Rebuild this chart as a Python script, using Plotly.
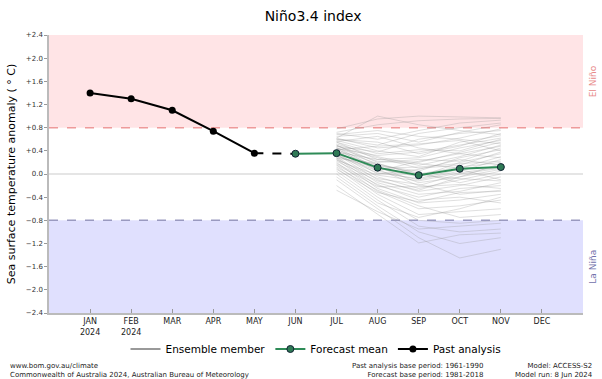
import plotly.graph_objects as go

months = ["JAN<br>2024", "FEB<br>2024", "MAR", "APR", "MAY", "JUN", "JUL", "AUG", "SEP", "OCT", "NOV", "DEC"]
month_pos = list(range(1, 13))

past_x = [1, 2, 3, 4, 5]
past_y = [1.40, 1.30, 1.10, 0.74, 0.36]

bridge_x = [5, 6]
bridge_y = [0.36, 0.35]

fc_x = [6, 7, 8, 9, 10, 11]
fc_y = [0.35, 0.36, 0.11, -0.02, 0.09, 0.12]

ens_x = [7, 8, 9, 10, 11]
ensemble = [
    [0.78, 0.95, 1.00, 0.98, 0.97],
    [0.72, 0.85, 0.92, 0.95, 0.96],
    [0.70, 0.60, 0.75, 0.88, 0.93],
    [0.65, 0.70, 0.55, 0.72, 0.85],
    [0.62, 0.45, 0.50, 0.62, 0.78],
    [0.60, 0.55, 0.35, 0.48, 0.70],
    [0.58, 0.40, 0.30, 0.55, 0.66],
    [0.55, 0.35, 0.42, 0.40, 0.60],
    [0.55, 0.25, 0.20, 0.38, 0.55],
    [0.52, 0.30, 0.15, 0.30, 0.50],
    [0.50, 0.20, 0.25, 0.22, 0.45],
    [0.50, 0.15, 0.05, 0.28, 0.42],
    [0.48, 0.28, 0.10, 0.15, 0.38],
    [0.46, 0.10, -0.05, 0.20, 0.35],
    [0.45, 0.22, 0.18, 0.10, 0.30],
    [0.44, 0.05, -0.10, 0.05, 0.25],
    [0.42, 0.18, 0.00, 0.12, 0.20],
    [0.40, 0.12, -0.15, -0.05, 0.18],
    [0.40, 0.00, 0.08, 0.25, 0.15],
    [0.38, 0.08, -0.20, 0.00, 0.10],
    [0.36, -0.05, -0.25, -0.10, 0.05],
    [0.35, 0.15, 0.02, -0.15, 0.00],
    [0.34, -0.10, -0.30, -0.20, -0.05],
    [0.32, 0.02, -0.08, 0.08, -0.10],
    [0.30, -0.15, -0.35, -0.30, -0.15],
    [0.30, 0.10, 0.12, 0.18, 0.22],
    [0.28, -0.20, -0.40, -0.25, -0.20],
    [0.26, -0.08, -0.18, -0.35, -0.28],
    [0.25, -0.25, -0.50, -0.45, -0.35],
    [0.22, -0.12, -0.28, -0.05, 0.08],
    [0.20, -0.30, -0.60, -0.55, -0.45],
    [0.18, -0.18, -0.45, -0.40, -0.50],
    [0.15, -0.35, -0.70, -0.65, -0.60],
    [0.12, -0.28, -0.55, -0.75, -0.70],
    [0.10, -0.40, -0.80, -0.85, -0.80],
    [0.05, -0.45, -0.90, -1.00, -0.95],
    [0.00, -0.50, -0.75, -0.60, -0.40],
    [-0.05, -0.55, -1.00, -1.20, -1.10],
    [-0.10, -0.60, -1.10, -1.45, -1.30],
    [-0.20, -0.70, -1.19, -1.05, -1.02],
    [-0.28, -0.65, -0.95, -0.90, -0.85],
    [0.68, 0.75, 0.65, 0.60, 0.52],
    [0.60, 0.50, 0.70, 0.80, 0.88],
    [0.56, 0.65, 0.45, 0.35, 0.28],
    [0.48, 0.38, 0.60, 0.70, 0.75],
    [0.44, 0.32, 0.38, 0.50, 0.62],
    [0.38, 0.25, 0.28, 0.45, 0.58],
    [0.33, 0.05, 0.22, 0.35, 0.48],
    [0.27, 0.18, -0.02, -0.08, -0.12],
    [0.24, -0.02, -0.12, 0.02, 0.12],
    [0.16, -0.22, -0.22, -0.18, -0.25],
    [0.08, -0.32, -0.48, -0.32, -0.30],
    [0.62, 1.00, 0.85, 0.75, 0.68],
    [0.42, 0.48, 0.52, 0.58, 0.40],
]

ytick_vals = [-2.4, -2.0, -1.6, -1.2, -0.8, -0.4, 0.0, 0.4, 0.8, 1.2, 1.6, 2.0, 2.4]
ytick_text = ["\u22122.4", "\u22122.0", "\u22121.6", "\u22121.2", "\u22120.8", "\u22120.4", "0.0",
              "+0.4", "+0.8", "+1.2", "+1.6", "+2.0", "+2.4"]

FONT = "DejaVu Sans"
fig = go.Figure()

ex, ey = [], []
for m in ensemble:
    ex += ens_x + [None]
    ey += m + [None]
fig.add_trace(go.Scatter(x=ex, y=ey, mode="lines", showlegend=False,
                         line=dict(color="rgba(150,150,150,0.3)", width=1)))
# legend entry for ensemble members (legend-only, solid grey)
fig.add_trace(go.Scatter(x=[None], y=[None], mode="lines", name="Ensemble member",
                         line=dict(color="#999999", width=2)))

fig.add_trace(go.Scatter(x=bridge_x, y=bridge_y, mode="lines", showlegend=False,
                         line=dict(color="black", width=2, dash="dash")))

fig.add_trace(go.Scatter(x=fc_x, y=fc_y, mode="lines+markers", name="Forecast mean",
                         line=dict(color="#2e8b57", width=2),
                         marker=dict(size=7, color="#2f7a55", line=dict(color="#123", width=1))))

fig.add_trace(go.Scatter(x=past_x, y=past_y, mode="lines+markers", name="Past analysis",
                         line=dict(color="black", width=2),
                         marker=dict(size=7, color="black")))

shapes = [
    dict(type="rect", xref="paper", yref="y", x0=0, x1=1, y0=0.8, y1=2.4,
         fillcolor="#ffe4e6", line=dict(width=0), layer="below"),
    dict(type="rect", xref="paper", yref="y", x0=0, x1=1, y0=-2.4, y1=-0.8,
         fillcolor="#e0e0fe", line=dict(width=0), layer="below"),
    dict(type="line", xref="paper", yref="y", x0=0, x1=1, y0=0, y1=0,
         line=dict(color="#dddddd", width=1.5), layer="below"),
    dict(type="line", xref="paper", yref="y", x0=0, x1=1, y0=0.8, y1=0.8,
         line=dict(color="#ee9a9a", width=1.5, dash="dash"), layer="below"),
    dict(type="line", xref="paper", yref="y", x0=0, x1=1, y0=-0.8, y1=-0.8,
         line=dict(color="#9a9ac0", width=1.5, dash="dash"), layer="below"),
]

annotations = [
    dict(text="El Niño", xref="paper", yref="y", x=1.0, y=1.6, xanchor="left", xshift=3,
         showarrow=False, textangle=-90, font=dict(family=FONT, size=9, color="#e88a8a")),
    dict(text="La Niña", xref="paper", yref="y", x=1.0, y=-1.6, xanchor="left", xshift=3,
         showarrow=False, textangle=-90, font=dict(family=FONT, size=9, color="#7070aa")),
    dict(text="www.bom.gov.au/climate<br>Commonwealth of Australia 2024, Australian Bureau of Meteorology",
         xref="paper", yref="paper", x=0, y=0, xanchor="left", yanchor="bottom",
         xshift=-41, yshift=-68, align="left", showarrow=False,
         font=dict(family=FONT, size=7, color="#222")),
    dict(text="Past analysis base period: 1961-1990<br>Forecast base period: 1981-2018",
         xref="paper", yref="paper", x=0, y=0, xanchor="right", yanchor="bottom",
         xshift=436, yshift=-68, align="right", showarrow=False,
         font=dict(family=FONT, size=7, color="#222")),
    dict(text="Model: ACCESS-S2<br>Model run: 8 Jun 2024",
         xref="paper", yref="paper", x=1, y=0, xanchor="right", yanchor="bottom",
         xshift=12, yshift=-68, align="right", showarrow=False,
         font=dict(family=FONT, size=7, color="#222")),
]

fig.update_layout(
    width=602, height=379,
    margin=dict(l=49, r=19, t=35, b=66, autoexpand=False),
    paper_bgcolor="white", plot_bgcolor="white",
    title=dict(text="Niño3.4 index", x=0.52, xanchor="center", y=0.97, yanchor="top",
               font=dict(family=FONT, size=14, color="black")),
    font=dict(family=FONT),
    showlegend=True,
    legend=dict(orientation="h", x=0.5, xanchor="center", y=(379 - 349) / 379, yanchor="middle",
                yref="container",
                font=dict(family=FONT, size=10.5, color="black"), bgcolor="rgba(0,0,0,0)",
                traceorder="normal"),
    xaxis=dict(range=[0, 13], tickvals=month_pos, ticktext=months, ticks="inside",
               ticklen=4, tickcolor="#999", showline=True, linecolor="#bbbbbb", linewidth=1.5,
               showgrid=False, zeroline=False, automargin=False,
               tickfont=dict(family=FONT, size=8, color="#222")),
    xaxis2=dict(range=[0, 13], tickvals=month_pos, overlaying="x", side="top", anchor="y",
                ticks="inside", ticklen=4, tickcolor="#999", showticklabels=False,
                showline=False, showgrid=False, zeroline=False, automargin=False),
    yaxis=dict(range=[-2.4, 2.4], tickvals=ytick_vals, ticktext=ytick_text, ticks="outside",
               ticklen=3, tickcolor="#999", showline=True, linecolor="#bbbbbb", linewidth=1.5,
               showgrid=False, zeroline=False, automargin=False,
               tickfont=dict(family=FONT, size=7, color="#333"),
               title=dict(text="Sea surface temperature anomaly ( ° C)", standoff=8,
                          font=dict(family=FONT, size=11, color="black"))),
    yaxis2=dict(range=[-2.4, 2.4], tickvals=ytick_vals, overlaying="y", side="right", anchor="x",
                ticks="inside", ticklen=4, tickcolor="#999", showticklabels=False,
                showline=True, linecolor="#bbbbbb", linewidth=1.5, showgrid=False, zeroline=False,
                automargin=False),
    shapes=shapes,
    annotations=annotations,
)

fig.write_html("out.html", config={"displayModeBar": False},
               post_script="document.body.style.margin='0';")
